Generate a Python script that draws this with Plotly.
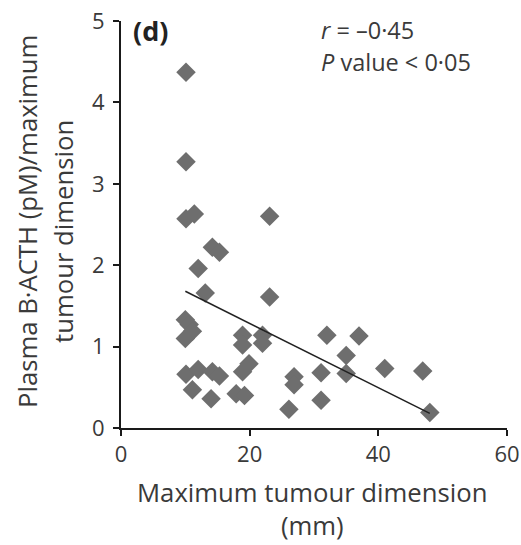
import plotly.graph_objects as go

# Data
tumour_mm = [10.1, 10.1, 10.1, 11.4, 23.1, 14.2, 15.3, 12.0, 13.1, 23.1,
             10.0, 10.6, 11.1, 10.0, 10.1, 12.0, 11.1, 14.2, 15.3, 14.0,
             18.9, 18.9, 22.0, 22.0, 19.9, 18.9, 17.9, 19.2, 26.9, 26.9,
             26.1, 32.0, 37.0, 35.0, 31.1, 35.0, 41.0, 46.9, 31.1, 48.0]
acth_ratio = [4.37, 3.27, 2.57, 2.63, 2.60, 2.22, 2.16, 1.96, 1.66, 1.61,
              1.33, 1.27, 1.19, 1.10, 0.66, 0.72, 0.47, 0.69, 0.64, 0.36,
              1.14, 1.02, 1.14, 1.04, 0.79, 0.69, 0.42, 0.40, 0.63, 0.53,
              0.23, 1.14, 1.13, 0.89, 0.68, 0.67, 0.73, 0.70, 0.34, 0.19]
fit_x = [10, 48]
fit_y = [1.68, 0.18]
x_ticks = [0, 20, 40, 60]
y_ticks = [0, 1, 2, 3, 4, 5]
x_title_lines = ["Maximum tumour dimension", "(mm)"]
y_title_lines = ["Plasma B·ACTH (pM)/maximum", "tumour dimension"]

FONT = "Open Sans"
TXT = "#3a3a3a"

ML, MR, MT, MB = 121, 14, 21, 117
W = 521 - ML - MR
H = 545 - MT - MB

fig = go.Figure()
fig.add_trace(go.Scatter(
    x=tumour_mm, y=acth_ratio, mode="markers",
    marker=dict(symbol="diamond", size=15, color="#6e6e6e", line=dict(width=0)),
    showlegend=False, cliponaxis=False))
fig.add_trace(go.Scatter(
    x=fit_x, y=fit_y, mode="lines",
    line=dict(color="#222222", width=1.5), showlegend=False))

fig.update_layout(
    width=521, height=545,
    margin=dict(l=ML, r=MR, t=MT, b=MB),
    paper_bgcolor="white", plot_bgcolor="white",
    font=dict(family=FONT, color=TXT, size=22),
    xaxis=dict(range=[0, 60], tickvals=x_ticks, showgrid=False, zeroline=False,
               showline=True, linecolor="#1a1a1a", linewidth=2, automargin=False,
               ticks="outside", ticklen=6, tickwidth=1.5, tickcolor="#1a1a1a",
               tickfont=dict(size=22, family=FONT, color=TXT)),
    yaxis=dict(range=[0, 5], tickvals=y_ticks, showgrid=False, zeroline=False,
               showline=True, linecolor="#1a1a1a", linewidth=2, automargin=False,
               ticks="outside", ticklen=6, tickwidth=1.5, tickcolor="#1a1a1a",
               ticklabelstandoff=4,
               tickfont=dict(size=22, family=FONT, color=TXT)),
)


def px(xp):
    return (xp - ML) / W


def py(yp):
    return (545 - MB - yp) / H


title_font = dict(size=25.7, family=FONT, color=TXT)
fig.update_layout(annotations=[
    dict(x=px(131), y=py(31), xref="paper", yref="paper", xanchor="left", yanchor="middle",
         text="<b>(d)</b>", showarrow=False, font=dict(size=27, family=FONT, color="#222222")),
    dict(x=px(319), y=py(30), xref="paper", yref="paper", xanchor="left", yanchor="middle",
         text="<i>r</i> = \u20130·45", showarrow=False, font=dict(size=23.5, family=FONT, color=TXT)),
    dict(x=px(319), y=py(62), xref="paper", yref="paper", xanchor="left", yanchor="middle",
         text="<i>P</i> value < 0·05", showarrow=False, font=dict(size=23.5, family=FONT, color=TXT)),
    # x axis title (two centred lines)
    dict(x=px(312), y=py(544), xref="paper", yref="paper", xanchor="center", yanchor="bottom",
         text="<br>".join(x_title_lines), align="center", showarrow=False,
         font=title_font, borderpad=0),
    # y axis title, one annotation per line to match the reference's line spacing
    dict(x=px(27), y=py(222), xref="paper", yref="paper", xanchor="center", yanchor="middle",
         text=y_title_lines[0], showarrow=False, textangle=-90, font=title_font),
    dict(x=px(63), y=py(232), xref="paper", yref="paper", xanchor="center", yanchor="middle",
         text=y_title_lines[1], showarrow=False, textangle=-90, font=title_font),
])

fig.write_html("out.html")
